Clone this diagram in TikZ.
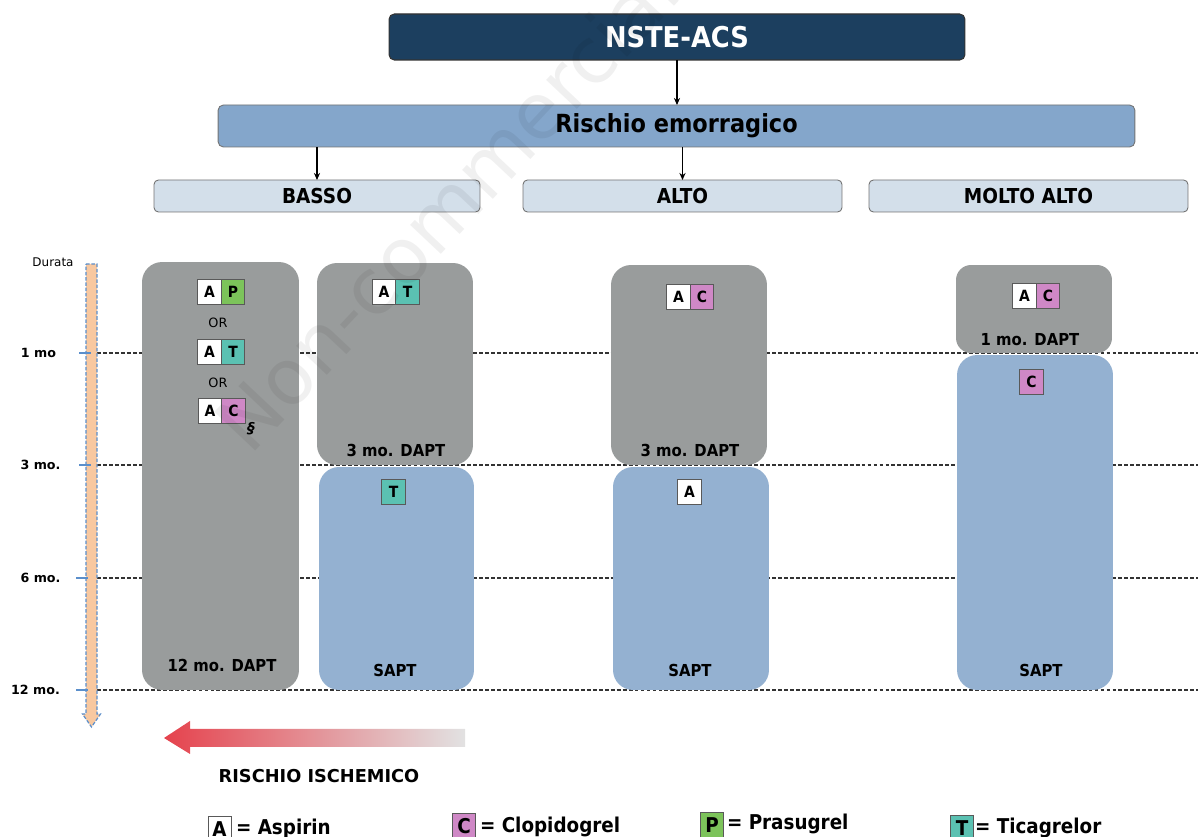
\documentclass[tikz,border=0pt]{standalone}
\usepackage{fontspec}
\setmainfont{DejaVu Sans}
\newfontfamily\tah[FakeStretch=0.9]{DejaVu Sans}
\usetikzlibrary{arrows.meta}
\newcommand\myfs[1]{\fontsize{#1}{#1}\selectfont}
\definecolor{navy}{HTML}{1C3F5F}
\definecolor{riskblue}{HTML}{84A6CB}
\definecolor{levelfill}{HTML}{D3DFEA}
\definecolor{boxgray}{HTML}{999C9C}
\definecolor{boxblue}{HTML}{94B1D1}
\definecolor{drugP}{HTML}{7CC35A}
\definecolor{drugT}{HTML}{5BC1B2}
\definecolor{drugC}{HTML}{CF88C6}
\definecolor{axfill}{HTML}{F8C8A0}
\definecolor{axline}{HTML}{5B8FCB}
\definecolor{arrred}{HTML}{E5424D}
\definecolor{arrgray}{HTML}{E2E2E2}
\tikzset{
  every node/.style={inner sep=0pt, outer sep=0pt},
  topbox/.style={draw=black!80, line width=0.6pt, fill=navy, rounded corners=3pt, minimum width=11.52cm, minimum height=0.92cm, text=white, font=\tah\bfseries\myfs{16.3pt}},
  riskbox/.style={draw=black!55, line width=0.5pt, fill=riskblue, rounded corners=3pt, minimum width=18.34cm, minimum height=0.84cm, font=\tah\bfseries\myfs{14.2pt}},
  levelbox/.style={draw=black!55, line width=0.5pt, fill=levelfill, rounded corners=2.5pt, minimum width=6.38cm, minimum height=0.64cm, font=\tah\bfseries\myfs{11.7pt}},
  graybox/.style={fill=boxgray, rounded corners=0.4cm, minimum width=3.12cm},
  bluebox/.style={fill=boxblue, rounded corners=0.4cm, minimum width=3.12cm},
  durlabel/.style={font=\tah\bfseries\myfs{9.4pt}},
  drug/.style={draw=black!65, line width=0.5pt, minimum width=0.47cm, minimum height=0.5cm, font=\tah\bfseries\myfs{8.8pt}},
  ortext/.style={font=\myfs{7.3pt}},
  conn/.style={-{Stealth[length=4pt,width=3.5pt]}, line width=0.6pt},
  month/.style={dash pattern=on 2.2pt off 1.2pt, line width=0.7pt, black!80},
  axlabel/.style={font=\bfseries\myfs{7.2pt}},
  tick/.style={axline, line width=1pt},
  legbox/.style={draw=black!65, line width=0.5pt, minimum width=0.46cm, minimum height=0.5cm, font=\tah\bfseries\myfs{11.6pt}},
  legtext/.style={font=\tah\bfseries\myfs{11.6pt}, anchor=base west},
}
\begin{document}
\begin{tikzpicture}[x=0.02cm,y=-0.02cm]
\useasboundingbox (0,0) rectangle (1198,837);

% header
\node[topbox] (nste) at (677,37) {NSTE-ACS};
\node[riskbox] (risk) at (676.5,126) {Rischio emorragico};
\node[levelbox, minimum width=6.52cm] (basso) at (317,196) {BASSO};
\node[levelbox] (alto) at (682.5,196) {ALTO};
\node[levelbox] (molto) at (1028.5,196) {MOLTO ALTO};
\draw[conn] (nste.south) -- (nste.south |- risk.north);
\draw[conn] (risk.south -| basso) -- (basso.north);
\draw[conn] (risk.south -| alto) -- (alto.north);

% month lines
\coordinate (l1s) at (97,353); \coordinate (l1e) at (1198,353);
\coordinate (l3s) at (97,465); \coordinate (l3e) at (1198,465);
\coordinate (l6s) at (97,578); \coordinate (l6e) at (1198,578);
\coordinate (l12s) at (97,690); \coordinate (l12e) at (1198,690);
\draw[month] (l1s) -- (l1e);
\draw[month] (l3s) -- (l3e);
\draw[month] (l6s) -- (l6e);
\draw[month] (l12s) -- (l12e);

% time axis
\filldraw[fill=axfill, draw=axline, line width=0.7pt, dash pattern=on 2pt off 1pt]
  (86,264) -- (97,264) -- (97,714) -- (100.5,714) -- (91.5,727) -- (82.5,714) -- (86,714) -- cycle;
\draw[tick] (79,353) -- (91,353);
\draw[tick] (79,465) -- (91,465);
\draw[tick] (76,578) -- (88,578);
\draw[tick] (76,690) -- (88,690);
\node[font=\myfs{6.8pt}] (durata) at (53,262) {Durata};
\node[axlabel] (m1) at (38.5,353) {1 mo};
\node[axlabel] (m3) at (40.5,465) {3 mo.};
\node[axlabel] (m6) at (40.5,578) {6 mo.};
\node[axlabel] (m12) at (35.5,690) {12 mo.};

% BASSO column
\node[graybox, minimum width=3.14cm, minimum height=8.56cm] (g12) at (220.5,476) {};
\node[graybox, minimum width=3.12cm, minimum height=4.04cm] (g3b) at (395,364) {};
\node[bluebox, minimum width=3.10cm, minimum height=4.46cm] (b3b) at (396.5,578.5) {};
\node[durlabel] (t12) at (222,665) {12 mo. DAPT};
\node[durlabel] (t3b) at (396,450) {3 mo. DAPT};
\node[durlabel] (s3b) at (395,670) {SAPT};

\node[drug, fill=white] (ap1) at (209.5,291.5) {A};
\node[drug, fill=drugP, anchor=west] (ap2) at (ap1.east) {P};
\node[ortext] (or1) at (218,323) {OR};
\node[drug, fill=white] (at1) at (209.5,351.5) {A};
\node[drug, fill=drugT, anchor=west] (at2) at (at1.east) {T};
\node[ortext] (or2) at (218,383) {OR};
\node[drug, fill=white] (ac1) at (210,411) {A};
\node[drug, fill=drugC, anchor=west] (ac2) at (ac1.east) {C};
\node[font=\bfseries\itshape\myfs{8.5pt}] (sec) at (251,429) {§};

\node[drug, fill=white] (bt1) at (384,291.5) {A};
\node[drug, fill=drugT, anchor=west] (bt2) at (bt1.east) {T};
\node[drug, fill=drugT] (bt3) at (393.5,492) {T};

% ALTO column
\node[graybox, minimum height=4.0cm] (g3a) at (689,365) {};
\node[bluebox, minimum height=4.46cm] (b3a) at (691,578.5) {};
\node[durlabel] (t3a) at (690,450) {3 mo. DAPT};
\node[durlabel] (s3a) at (690,670) {SAPT};
\node[drug, fill=white] (aa1) at (678.5,297) {A};
\node[drug, fill=drugC, anchor=west] (aa2) at (aa1.east) {C};
\node[drug, fill=white] (aa3) at (689.5,492) {A};

% MOLTO ALTO column
\node[graybox, rounded corners=0.3cm, minimum height=1.76cm] (g1m) at (1034,309) {};
\node[bluebox, minimum height=6.7cm] (b1m) at (1035,522.5) {};
\node[durlabel] (t1m) at (1030,340) {1 mo. DAPT};
\node[durlabel] (s1m) at (1041,670) {SAPT};
\node[drug, fill=white] (ma1) at (1024.5,296) {A};
\node[drug, fill=drugC, anchor=west] (ma2) at (ma1.east) {C};
\node[drug, fill=drugC] (ma3) at (1031.5,382) {C};

% ischemic risk arrow
\shade[left color=arrred, right color=arrgray]
  (164,738) -- (190,721) -- (190,729) -- (465,729) -- (465,747) -- (190,747) -- (190,754) -- cycle;
\node[font=\bfseries\myfs{10.1pt}] (isch) at (319,776) {RISCHIO ISCHEMICO};

% legend
\node[legbox, fill=white] (lA) at (219.5,829) {A};
\node[legtext] (lAt) at (236,835) {= Aspirin};
\node[legbox, fill=drugC] (lC) at (464,826) {C};
\node[legtext] (lCt) at (480,833) {= Clopidogrel};
\node[legbox, fill=drugP] (lP) at (712,825) {P};
\node[legtext] (lPt) at (727,830) {= Prasugrel};
\node[legbox, fill=drugT] (lT) at (962,828) {T};
\node[legtext] (lTt) at (975,834) {= Ticagrelor};

% watermark
\begin{scope}
\clip (0,0) rectangle (1198,837);
\node[anchor=base west, rotate=46.7, font=\myfs{44pt}, text=black, opacity=0.06] (wm) at (250,457) {Non-commercial};
\end{scope}
\end{tikzpicture}
\end{document}
